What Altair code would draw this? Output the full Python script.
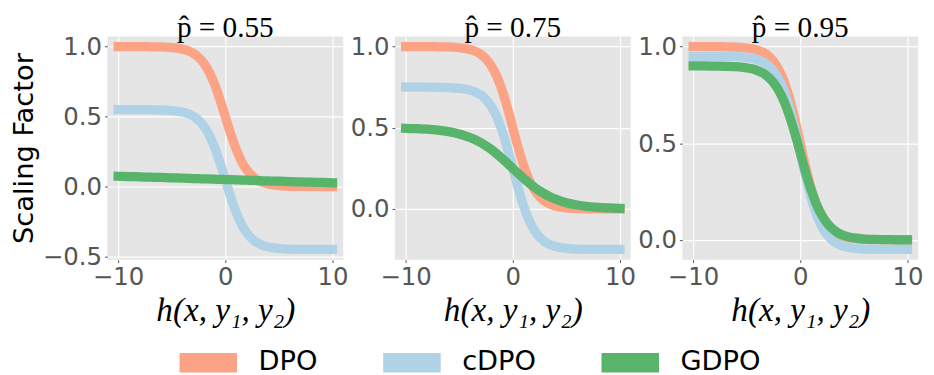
import altair as alt
import pandas as pd

# h(x, y1, y2) sample points
h = [-10, -9, -8, -7, -6, -5, -4.5, -4, -3.5, -3, -2.5, -2, -1.5, -1, -0.5, 0,
     0.5, 1, 1.5, 2, 2.5, 3, 3.5, 4, 4.5, 5, 6, 7, 8, 9, 10]

panels = ["p̂ = 0.55", "p̂ = 0.75", "p̂ = 0.95"]
methods = ["DPO", "cDPO", "GDPO"]
colors = ["#FCA386", "#AFD2E7", "#58B36B"]

# values
dpo = [1.0, 1.0, 1.0, 0.999, 0.998, 0.993, 0.989, 0.982, 0.971, 0.953, 0.924, 0.881, 0.818, 0.731, 0.622, 0.5,
       0.378, 0.269, 0.182, 0.119, 0.076, 0.047, 0.029, 0.018, 0.011, 0.007, 0.002, 0.001, 0.0, 0.0, 0.0]

cdpo_055 = [0.55, 0.55, 0.55, 0.549, 0.548, 0.543, 0.539, 0.532, 0.521, 0.503, 0.474, 0.431, 0.368, 0.281, 0.172, 0.05,
            -0.072, -0.181, -0.268, -0.331, -0.374, -0.403, -0.421, -0.432, -0.439, -0.443, -0.448, -0.449, -0.45, -0.45, -0.45]
cdpo_075 = [0.75, 0.75, 0.75, 0.749, 0.748, 0.743, 0.739, 0.732, 0.721, 0.703, 0.674, 0.631, 0.568, 0.481, 0.372, 0.25,
            0.128, 0.019, -0.068, -0.131, -0.174, -0.203, -0.221, -0.232, -0.239, -0.243, -0.248, -0.249, -0.25, -0.25, -0.25]
cdpo_095 = [0.95, 0.95, 0.95, 0.949, 0.948, 0.943, 0.939, 0.932, 0.921, 0.903, 0.874, 0.831, 0.768, 0.681, 0.572, 0.45,
            0.328, 0.219, 0.132, 0.069, 0.026, -0.003, -0.021, -0.032, -0.039, -0.043, -0.048, -0.049, -0.05, -0.05, -0.05]

gdpo_055 = [0.073, 0.071, 0.069, 0.067, 0.065, 0.062, 0.061, 0.060, 0.059, 0.057, 0.056, 0.055, 0.054, 0.053, 0.051, 0.05,
            0.049, 0.048, 0.046, 0.045, 0.044, 0.043, 0.041, 0.040, 0.039, 0.038, 0.035, 0.033, 0.031, 0.029, 0.027]
gdpo_075 = [0.497, 0.494, 0.491, 0.485, 0.476, 0.462, 0.452, 0.440, 0.426, 0.409, 0.389, 0.366, 0.339, 0.311, 0.281, 0.25,
            0.219, 0.189, 0.161, 0.134, 0.111, 0.091, 0.074, 0.060, 0.048, 0.038, 0.024, 0.015, 0.009, 0.006, 0.003]
gdpo_095 = [0.900, 0.900, 0.899, 0.898, 0.896, 0.890, 0.885, 0.876, 0.863, 0.843, 0.814, 0.772, 0.715, 0.640, 0.550, 0.45,
            0.350, 0.260, 0.185, 0.128, 0.086, 0.057, 0.037, 0.024, 0.015, 0.010, 0.004, 0.002, 0.001, 0.0, 0.0]

series = {
    panels[0]: {"DPO": dpo, "cDPO": cdpo_055, "GDPO": gdpo_055},
    panels[1]: {"DPO": dpo, "cDPO": cdpo_075, "GDPO": gdpo_075},
    panels[2]: {"DPO": dpo, "cDPO": cdpo_095, "GDPO": gdpo_095},
}

y_domains = [[-0.5225, 1.0725], [-0.3125, 1.0625], [-0.1025, 1.0525]]
y_ticks = [[-0.5, 0.0, 0.5, 1.0], [0.0, 0.5, 1.0], [0.0, 0.5, 1.0]]

W, H = 242, 229

charts = []
for i, p in enumerate(panels):
    rows = []
    for m in methods:
        for hv, v in zip(h, series[p][m]):
            rows.append({"h": hv, "value": v, "method": m})
    df = pd.DataFrame(rows)

    layers = []
    for m in methods:
        layer = (
            alt.Chart(df)
            .transform_filter(alt.datum.method == m)
            .mark_line(strokeWidth=9.5, strokeCap="square", interpolate="monotone")
            .encode(
                x=alt.X(
                    "h:Q",
                    scale=alt.Scale(domain=[-11, 11], nice=False, zero=False),
                    axis=alt.Axis(values=[-10, 0, 10], title="h(x, y₁, y₂)"),
                ),
                y=alt.Y(
                    "value:Q",
                    scale=alt.Scale(domain=y_domains[i], nice=False, zero=False),
                    axis=alt.Axis(
                        values=y_ticks[i],
                        format=".1f",
                        title="Scaling Factor" if i == 0 else None,
                    ),
                ),
                color=alt.Color(
                    "method:N",
                    scale=alt.Scale(domain=methods, range=colors),
                    legend=alt.Legend(
                        title=None,
                        orient="none",
                        legendX=64,
                        legendY=295,
                        direction="horizontal",
                        symbolType="M-1,0H1",
                        symbolSize=3481,
                        symbolStrokeWidth=20,
                        labelFontSize=28,
                        labelFont="DejaVu Sans",
                        labelColor="black",
                        labelOffset=12,
                        columnPadding=27,
                    ),
                ),
            )
        )
        layers.append(layer)

    chart = alt.layer(*layers).properties(
        width=W,
        height=H,
        title=alt.TitleParams(
            p,
            font="Liberation Serif",
            fontSize=30,
            fontWeight="normal",
            color="black",
            anchor="middle",
            offset=-15,
        ),
    )
    charts.append(chart)

final = (
    alt.hconcat(*charts, spacing=53, bounds="flush")
    .resolve_scale(y="independent")
    .properties(padding={"left": 3, "top": 0, "right": 0, "bottom": 0})
    .configure_view(fill="#E5E5E5", strokeWidth=0)
    .configure_axis(
        grid=True,
        gridColor="white",
        gridWidth=1.2,
        domain=False,
        tickColor="#555555",
        tickSize=3,
        labelFont="DejaVu Sans",
        labelFontSize=25,
        labelColor="#555555",
        labelPadding=3,
    )
    .configure_axisX(
        titleFont="Liberation Serif",
        titleFontStyle="italic",
        titleFontWeight="normal",
        titleFontSize=34,
        titleColor="black",
        titlePadding=4,
    )
    .configure_axisY(
        titleFont="DejaVu Sans",
        titleFontWeight="normal",
        titleFontSize=28,
        titleColor="black",
        titlePadding=4,
    )
)

final.save("out.html", embed_options={"renderer": "svg", "actions": False})
